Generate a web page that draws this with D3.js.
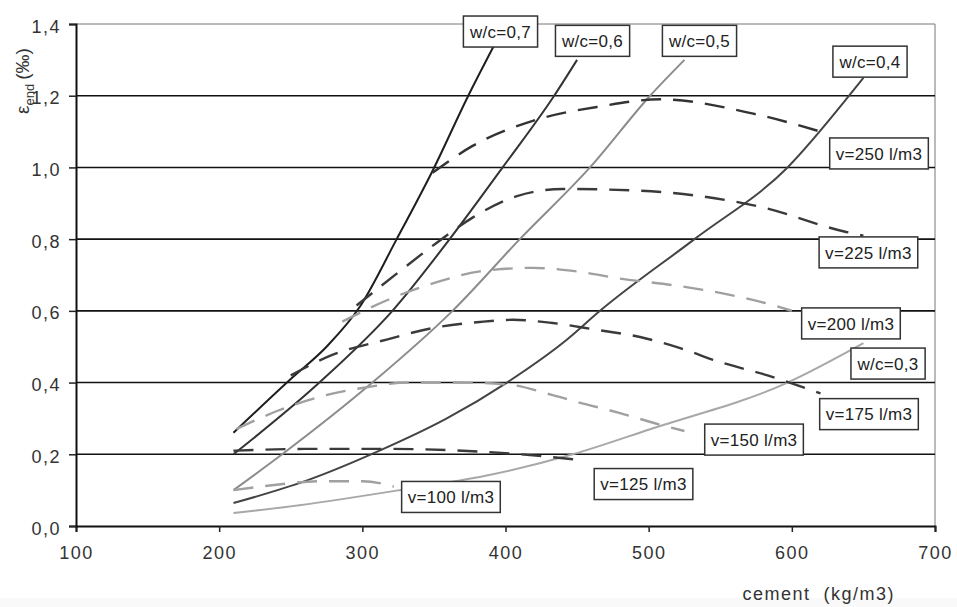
<!DOCTYPE html>
<html>
<head>
<meta charset="utf-8">
<script src="https://cdn.jsdelivr.net/npm/d3@7"></script>
<style>
  body { margin: 0; background: #fff; }
  text { font-family: "Liberation Sans", Arial, sans-serif; }
</style>
</head>
<body>
<div id="viz"></div>
<script>
var w = 957;
var h = 607;

// solid curves, constant w/c  [cement, strain]
var wc07 = [[210, 0.26], [250, 0.41], [275, 0.50], [298, 0.61], [324, 0.80], [349, 0.99], [374, 1.20], [392, 1.34]];
var wc06 = [[210, 0.20], [270, 0.40], [321, 0.60], [361, 0.80], [398, 1.00], [434, 1.20], [450, 1.30]];
var wc05 = [[210, 0.10], [244, 0.20], [307, 0.40], [363, 0.60], [410, 0.80], [459, 1.00], [501, 1.20], [525, 1.30]];
var wc04 = [[210, 0.064], [260, 0.125], [312, 0.21], [359, 0.30], [401, 0.40], [443, 0.52], [466, 0.60], [532, 0.80], [597, 1.00], [640, 1.20], [650, 1.25]];
var wc03 = [[210, 0.036], [256, 0.058], [326, 0.10], [386, 0.14], [447, 0.20], [501, 0.27], [597, 0.40], [650, 0.51]];

// dashed curves, constant water content
var v250 = [[349, 0.985], [377, 1.06], [419, 1.13], [466, 1.17], [508, 1.19], [573, 1.15], [620, 1.10]];
var v225 = [[296, 0.615], [326, 0.71], [352, 0.79], [377, 0.86], [408, 0.92], [440, 0.94], [494, 0.935], [536, 0.92], [578, 0.89], [638, 0.82], [650, 0.81]];
var v200 = [[286, 0.57], [321, 0.636], [352, 0.68], [382, 0.71], [419, 0.72], [450, 0.71], [480, 0.69], [520, 0.67], [550, 0.65], [583, 0.62], [600, 0.60]];
var v175 = [[250, 0.42], [279, 0.477], [317, 0.52], [349, 0.552], [382, 0.569], [405, 0.575], [433, 0.566], [464, 0.547], [494, 0.527], [522, 0.496], [550, 0.457], [583, 0.42], [620, 0.37]];
var v150 = [[212, 0.27], [240, 0.32], [270, 0.36], [300, 0.385], [333, 0.40], [370, 0.40], [401, 0.395], [433, 0.365], [450, 0.346], [480, 0.315], [510, 0.28], [525, 0.265]];
var v125 = [[210, 0.21], [260, 0.215], [320, 0.215], [370, 0.21], [410, 0.20], [450, 0.185]];
var v100 = [[210, 0.10], [240, 0.115], [270, 0.125], [300, 0.125], [322, 0.11]];

var xTicks = [100, 200, 300, 400, 500, 600, 700];
var yTicks = [0, 0.2, 0.4, 0.6, 0.8, 1.0, 1.2, 1.4];

var curves = [
    { name: "w/c=0,7", pts: wc07, dashed: false, color: "#1e1e1e" },
    { name: "w/c=0,6", pts: wc06, dashed: false, color: "#333" },
    { name: "w/c=0,5", pts: wc05, dashed: false, color: "#8c8c8c" },
    { name: "w/c=0,4", pts: wc04, dashed: false, color: "#444" },
    { name: "w/c=0,3", pts: wc03, dashed: false, color: "#a8a8a8" },
    { name: "v=250 l/m3", pts: v250, dashed: true, color: "#333" },
    { name: "v=225 l/m3", pts: v225, dashed: true, color: "#3a3a3a" },
    { name: "v=200 l/m3", pts: v200, dashed: true, color: "#a0a0a0" },
    { name: "v=175 l/m3", pts: v175, dashed: true, color: "#3a3a3a" },
    { name: "v=150 l/m3", pts: v150, dashed: true, color: "#a0a0a0" },
    { name: "v=125 l/m3", pts: v125, dashed: true, color: "#3a3a3a" },
    { name: "v=100 l/m3", pts: v100, dashed: true, color: "#a0a0a0" }
];

// where each label box sits (centre, in data units)
var labelSpots = {
    "w/c=0,7": [396.5, 1.379],
    "w/c=0,6": [460.8, 1.353],
    "w/c=0,5": [535.5, 1.353],
    "w/c=0,4": [654.6, 1.295],
    "v=250 l/m3": [660.9, 1.039],
    "v=225 l/m3": [653.5, 0.763],
    "v=200 l/m3": [641.3, 0.565],
    "w/c=0,3": [667.2, 0.453],
    "v=175 l/m3": [653.9, 0.312],
    "v=150 l/m3": [573.6, 0.241],
    "v=125 l/m3": [496.4, 0.117],
    "v=100 l/m3": [361.9, 0.081]
};

var x = d3.scaleLinear().domain([100, 700]).range([76, 935]);
var y = d3.scaleLinear().domain([0, 1.4]).range([526, 24]);

var svg = d3.select("#viz")
    .append("svg")
    .attr("width", w)
    .attr("height", h);

svg.append("rect")
    .attr("x", 0).attr("y", 0)
    .attr("width", w).attr("height", h)
    .attr("fill", "#fff");

// faint band at the very bottom of the scan
svg.append("rect")
    .attr("x", 0).attr("y", 598)
    .attr("width", w).attr("height", h - 598)
    .attr("fill", "#f9f9f9");

var grid = svg.append("g").attr("class", "grid");

// top & right frame (thin gray)
grid.append("line")
    .attr("x1", x(100)).attr("x2", x(700))
    .attr("y1", y(1.4)).attr("y2", y(1.4))
    .attr("stroke", "#777").attr("stroke-width", 1);
grid.append("line")
    .attr("x1", x(700)).attr("x2", x(700))
    .attr("y1", y(1.4)).attr("y2", y(0))
    .attr("stroke", "#777").attr("stroke-width", 1);

// horizontal gridlines
grid.selectAll("line.h")
    .data(yTicks.filter(function (d) { return d > 0 && d < 1.4; }))
    .enter().append("line")
    .attr("class", "h")
    .attr("x1", x(100)).attr("x2", x(700))
    .attr("y1", function (d) { return y(d); })
    .attr("y2", function (d) { return y(d); })
    .attr("stroke", "#111").attr("stroke-width", 1.6);

// axes
var xAxis = d3.axisBottom(x)
    .tickValues(xTicks)
    .tickSize(6)
    .tickPadding(14)
    .tickFormat(d3.format("d"));

var yAxis = d3.axisLeft(y)
    .tickValues(yTicks)
    .tickSize(7)
    .tickPadding(8)
    .tickFormat(function (d) { return d3.format(".1f")(d).replace(".", ","); });

var gx = svg.append("g")
    .attr("transform", "translate(0," + y(0) + ")")
    .call(xAxis);
var gy = svg.append("g")
    .attr("transform", "translate(" + x(100) + ",0)")
    .call(yAxis);

[gx, gy].forEach(function (g) {
    g.select(".domain").attr("stroke", "#111").attr("stroke-width", 2);
    g.selectAll(".tick line").attr("stroke", "#222").attr("stroke-width", 1.5);
    g.selectAll(".tick text")
        .attr("fill", "#333")
        .style("font-size", "18px")
        .style("letter-spacing", "1.5px");
});
gy.selectAll(".tick text").attr("dy", "0.45em");

// curves
var line = d3.line()
    .x(function (d) { return x(d[0]); })
    .y(function (d) { return y(d[1]); })
    .curve(d3.curveMonotoneX);

svg.append("g").attr("class", "curves")
    .selectAll("path")
    .data(curves)
    .enter().append("path")
    .attr("d", function (d) { return line(d.pts); })
    .attr("fill", "none")
    .attr("stroke", function (d) { return d.color; })
    .attr("stroke-width", function (d) { return d.dashed ? 2.4 : 2; })
    .attr("stroke-dasharray", function (d) { return d.dashed ? "20,12" : null; });

// label boxes
var labels = svg.append("g").attr("class", "labels")
    .selectAll("g")
    .data(curves)
    .enter().append("g")
    .attr("transform", function (d) {
        var p = labelSpots[d.name];
        return "translate(" + x(p[0]) + "," + y(p[1]) + ")";
    });

labels.append("rect")
    .attr("fill", "#fff")
    .attr("stroke", "#333")
    .attr("stroke-width", 1.5);

labels.append("text")
    .attr("text-anchor", "middle")
    .attr("dy", "0.36em")
    .attr("fill", "#222")
    .style("font-size", "17px")
    .style("letter-spacing", "0.3px")
    .text(function (d) { return d.name; });

labels.each(function () {
    var g = d3.select(this);
    var bb = g.select("text").node().getBBox();
    var bw = bb.width + 12, bh = 31;
    g.select("rect")
        .attr("x", -bw / 2).attr("y", -bh / 2)
        .attr("width", bw).attr("height", bh);
});

// axis titles
svg.append("text")
    .attr("x", 895)
    .attr("y", 600)
    .attr("text-anchor", "end")
    .attr("fill", "#333")
    .attr("xml:space", "preserve")
    .style("font-size", "18px")
    .style("letter-spacing", "1.5px")
    .text("cement  (kg/m3)");

var yt = svg.append("text")
    .attr("transform", "translate(29,114) rotate(-90)")
    .attr("fill", "#333")
    .style("font-size", "19px");
yt.append("tspan").text("ε");
yt.append("tspan").attr("dy", 5).style("font-size", "13px").text("end");
yt.append("tspan").attr("dy", -5).attr("dx", 4).text("(‰)");
</script>
</body>
</html>
